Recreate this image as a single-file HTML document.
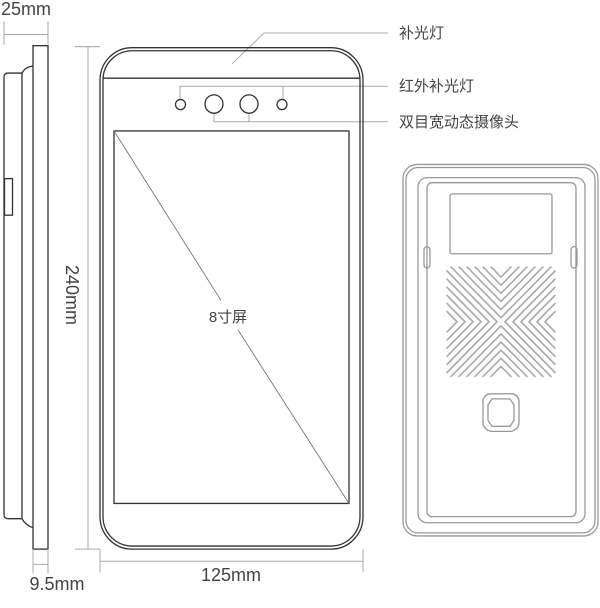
<!DOCTYPE html>
<html><head><meta charset="utf-8"><style>
html,body{margin:0;padding:0;background:#fff}
svg{display:block}
text{font-family:"Liberation Sans","Noto Sans CJK SC",sans-serif;fill:#444}
</style></head><body>
<svg width="600" height="608" viewBox="0 0 600 608" xmlns="http://www.w3.org/2000/svg">
<g transform="scale(1 1.015)">
<!-- side view -->
<g fill="none" stroke="#333" stroke-width="1.3">
<rect x="33" y="45" width="15" height="496"/>
<path d="M33 65 Q25 66 22 72 L22 511 Q25 517 33 520"/>
<path d="M22 72 L8 72 Q4 72 4 76 L4 507 Q4 511 8 511 L22 511"/>
<rect x="4.5" y="176" width="8" height="36"/>
</g>
<!-- dims -->
<g stroke="#aaa" stroke-width="1" fill="none">
<path d="M4 34 H48 M4 21 V44 M48 21 V44"/>
<path d="M88 46 V541 M75 46 H100 M75 541 H100"/>
<path d="M100 553 H363 M100 541 V564 M363 541 V564"/>
<path d="M33 541 V565 M48 541 V565 M33 556 H48"/>
<path d="M232 63 L264 32.5 H388"/>
<path d="M180 97 V85 H283 V97 M283 85 H388"/>
<path d="M214 111 V120 H249 V111 M249 120 H388"/>
</g>
<!-- front -->
<g fill="none" stroke="#333" stroke-width="1.3">
<rect x="100" y="47" width="263" height="494" rx="32"/>
<rect x="103" y="50" width="257" height="488" rx="29"/>
<path d="M103 77 H360"/>
<rect x="114" y="129" width="235" height="367"/>
<circle cx="180.5" cy="103" r="5"/>
<circle cx="214" cy="102.5" r="9"/>
<circle cx="249" cy="102.5" r="9"/>
<circle cx="282" cy="103" r="5"/>
</g>
<path d="M114 129 L221 296 M238 325 L349 496" stroke="#777" stroke-width="0.9"/>
<!-- back -->
<g fill="none" stroke="#999" stroke-width="1.3">
<rect x="403" y="162" width="195" height="366" rx="14"/>
<rect x="406" y="165" width="189" height="360" rx="12"/>
<rect x="418" y="175" width="167" height="340" rx="9"/>
<rect x="427" y="180" width="149" height="329" rx="5"/>
<rect x="450" y="191" width="102" height="59" rx="2"/>
<rect x="424" y="243" width="6" height="21" rx="3"/>
<rect x="571" y="243" width="6" height="21" rx="3"/>
<path d="M491 388 H511 Q517 388 519 394 V418 Q517 424 511 425 H491 Q485 424 483 418 V394 Q485 388 491 388 Z"/>
<path d="M492 393 H510 L514 399 V414 L510 420 H492 L488 414 V399 Z"/>
</g>
<g fill="none" stroke="#aaa" stroke-width="1.6" stroke-linecap="round" stroke-linejoin="round">
<g id="q">
<path d="M451 263 L501 313 L551 263"/>
<path d="M459 263 L501 305 L543 263"/>
<path d="M467 263 L501 297 L535 263"/>
<path d="M475 263 L501 289 L527 263"/>
<path d="M483 263 L501 281 L519 263"/>
<path d="M491 263 L501 273 L511 263"/>
</g>
<use href="#q" transform="rotate(90 501 317)"/>
<use href="#q" transform="rotate(180 501 317)"/>
<use href="#q" transform="rotate(270 501 317)"/>
</g>
</g>
<text x="26" y="15" font-size="18" text-anchor="middle">25mm</text>
<text x="231" y="581" font-size="18" text-anchor="middle">125mm</text>
<text x="57" y="590" font-size="18" text-anchor="middle">9.5mm</text>
<text transform="translate(66 295) rotate(90)" font-size="18" text-anchor="middle">240mm</text>
<text x="399" y="38" font-size="15">补光灯</text>
<text x="399" y="91" font-size="15">红外补光灯</text>
<text x="399" y="127" font-size="15">双目宽动态摄像头</text>
<text x="228" y="322" font-size="15" text-anchor="middle">8寸屏</text>
</svg>
</body></html>
